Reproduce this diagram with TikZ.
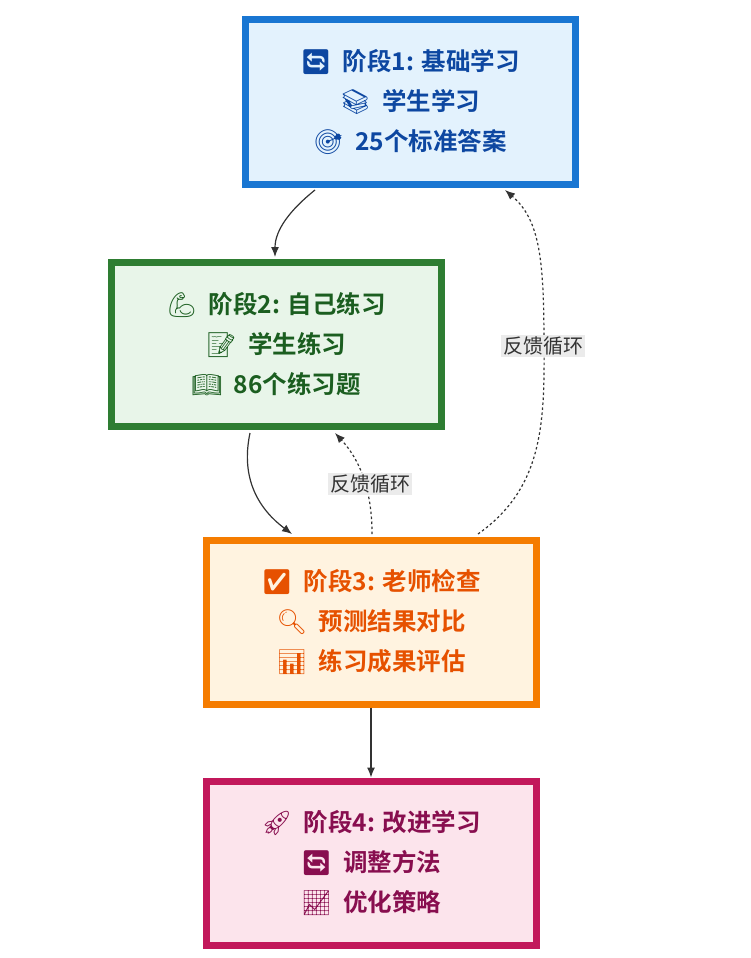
\documentclass[tikz,border=0pt]{standalone}
\usepackage{fontspec}
\setmainfont{Noto Sans CJK SC}
\newfontfamily\cjkb{Noto Sans CJK SC Bold}
\newfontfamily\emo{Noto Emoji}
\usetikzlibrary{arrows.meta}
\begin{document}
\begin{tikzpicture}[x=1pt,y=-1pt,
 box/.style={draw, line width=7pt, minimum width=330pt, minimum height=164pt, align=center, font=\cjkb\fontsize{24.5}{40}\selectfont},
 lbl/.style={fill=black!8, inner sep=2pt, font=\fontsize{20}{22}\selectfont, text=black!80},
 arr/.style={-{Latex[length=10pt,width=8pt]}, line width=1.2pt, black!80},
 darr/.style={arr, dash pattern=on 2.5pt off 2.5pt}]
\useasboundingbox (0,0) rectangle (751,958);
\definecolor{b1}{HTML}{1976D2}\definecolor{f1}{HTML}{E3F2FD}\definecolor{t1}{HTML}{0D47A1}
\definecolor{b2}{HTML}{2E7D32}\definecolor{f2}{HTML}{E8F5E9}\definecolor{t2}{HTML}{1B5E20}
\definecolor{b3}{HTML}{F57C00}\definecolor{f3}{HTML}{FFF3E0}\definecolor{t3}{HTML}{E65100}
\definecolor{b4}{HTML}{C2185B}\definecolor{f4}{HTML}{FCE4EC}\definecolor{t4}{HTML}{880E4F}
\node[box, draw=b1, fill=f1, text=t1] (s1) at (410,102) {{\emo 🔄}\ \ 阶段1: 基础学习\\{\emo 📚}\ \ 学生学习\\{\emo 🎯}\ \ 25个标准答案};
\node[box, draw=b2, fill=f2, text=t2] (s2) at (276,344) {{\emo 💪}\ \ 阶段2: 自己练习\\{\emo 📝}\ \ 学生练习\\{\emo 📖}\ \ 86个练习题};
\node[box, draw=b3, fill=f3, text=t3] (s3) at (371,622) {{\emo ✅}\ \ 阶段3: 老师检查\\{\emo 🔍}\ \ 预测结果对比\\{\emo 📊}\ \ 练习成果评估};
\node[box, draw=b4, fill=f4, text=t4] (s4) at (371,863) {{\emo 🚀}\ \ 阶段4: 改进学习\\{\emo 🔄}\ \ 调整方法\\{\emo 📈}\ \ 优化策略};
\coordinate (a1) at (315,190); \coordinate (a2) at (275,257);
\draw[arr] (a1) .. controls (290,210) and (275,230) .. (a2);
\coordinate (b1) at (250,433); \coordinate (b2) at (292,534);
\draw[arr] (b1) .. controls (240,480) and (260,510) .. (b2);
\draw[arr] (s3.south) -- (s4.north);
\coordinate (c1) at (372,534); \coordinate (c2) at (335,433);
\draw[darr] (c1) .. controls (372,490) and (360,460) .. (c2);
\node[lbl] (l1) at (370,484) {反馈循环};
\coordinate (d1) at (478,534); \coordinate (d2) at (505,190);
\draw[darr] (d1) .. controls (540,490) and (545,430) .. (544,346) .. controls (544,260) and (540,220) .. (d2);
\node[lbl] (l2) at (543,346) {反馈循环};
\end{tikzpicture}
\end{document}
